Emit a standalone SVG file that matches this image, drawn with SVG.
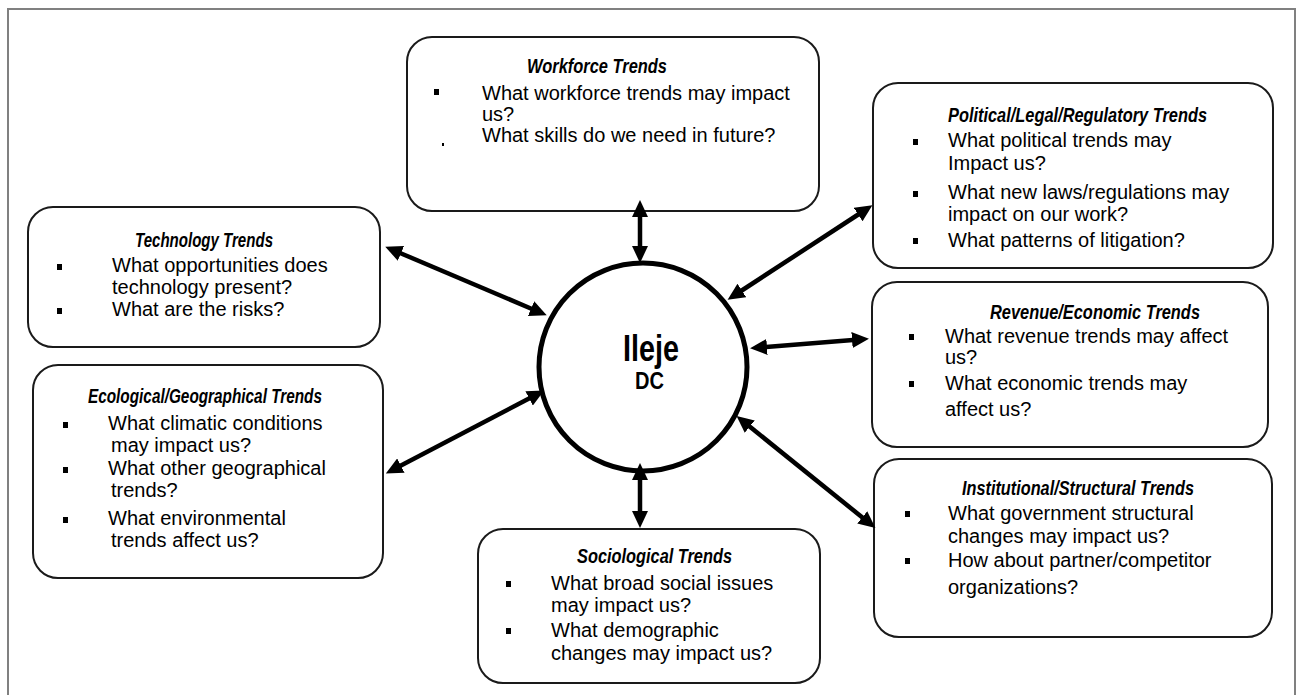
<svg xmlns="http://www.w3.org/2000/svg" width="1301" height="695" viewBox="0 0 1301 695">
<style>
.frame{stroke:#808080;stroke-width:2;fill:none}
.box{fill:#fff;stroke:#1a1a1a;stroke-width:2}
.ttl{font-family:"Liberation Sans",Arial,sans-serif;font-weight:bold;font-style:italic;font-size:20px;fill:#000}
.txt{font-family:"Liberation Sans",Arial,sans-serif;font-size:20px;fill:#000}
.blt{fill:#000}
.arr{stroke:#000;stroke-width:4.5;fill:none;marker-start:url(#ah);marker-end:url(#ah)}
.ctr{fill:#fff;stroke:#000;stroke-width:5}
.big{font-family:"Liberation Sans",Arial,sans-serif;font-weight:bold;fill:#000}
</style>
<defs>
<marker id="ah" viewBox="0 -8 17 16" refX="1" refY="0" markerWidth="17" markerHeight="16" markerUnits="userSpaceOnUse" orient="auto-start-reverse">
<path d="M0,-8 L17,0 L0,8 z" fill="#000"/>
</marker>
</defs>
<rect width="1301" height="695" fill="#fff"/>
<path class="frame" d="M8,695 V9 H1295 V695"/>

<g id="workforce">
<rect class="box" x="407" y="37" width="412" height="174" rx="25"/>
<text class="ttl" x="527" y="73" textLength="140" lengthAdjust="spacingAndGlyphs">Workforce Trends</text>
<rect class="blt" x="434" y="89" width="5" height="6"/>
<text class="txt" x="482" y="100">What workforce trends may impact</text>
<text class="txt" x="482" y="121">us?</text>
<rect class="blt" x="442" y="143" width="2" height="3"/>
<text class="txt" x="482" y="142">What skills do we need in future?</text>
</g>

<g id="political">
<rect class="box" x="873" y="83" width="400" height="185" rx="25"/>
<text class="ttl" x="948" y="122" textLength="259" lengthAdjust="spacingAndGlyphs">Political/Legal/Regulatory Trends</text>
<rect class="blt" x="913" y="139" width="5" height="6"/>
<text class="txt" x="948" y="147">What political trends may</text>
<text class="txt" x="948" y="170">Impact us?</text>
<rect class="blt" x="913" y="191" width="5" height="6"/>
<text class="txt" x="948" y="199">What new laws/regulations may</text>
<text class="txt" x="948" y="221">impact on our work?</text>
<rect class="blt" x="913" y="238" width="5" height="6"/>
<text class="txt" x="948" y="247">What patterns of litigation?</text>
</g>

<g id="technology">
<rect class="box" x="28" y="207" width="352" height="140" rx="25"/>
<text class="ttl" x="135" y="247" textLength="138" lengthAdjust="spacingAndGlyphs">Technology Trends</text>
<rect class="blt" x="57" y="264" width="5" height="6"/>
<text class="txt" x="112" y="272">What opportunities does</text>
<text class="txt" x="112" y="294">technology present?</text>
<rect class="blt" x="57" y="308" width="5" height="6"/>
<text class="txt" x="112" y="316">What are the risks?</text>
</g>

<g id="ecological">
<rect class="box" x="33" y="365" width="350" height="213" rx="25"/>
<text class="ttl" x="88" y="403" textLength="234" lengthAdjust="spacingAndGlyphs">Ecological/Geographical Trends</text>
<rect class="blt" x="63" y="422" width="5" height="6"/>
<text class="txt" x="108" y="430">What climatic conditions</text>
<text class="txt" x="111" y="452">may impact us?</text>
<rect class="blt" x="63" y="467" width="5" height="6"/>
<text class="txt" x="108" y="475">What other geographical</text>
<text class="txt" x="111" y="497">trends?</text>
<rect class="blt" x="63" y="517" width="5" height="6"/>
<text class="txt" x="108" y="525">What environmental</text>
<text class="txt" x="111" y="547">trends affect us?</text>
</g>

<g id="revenue">
<rect class="box" x="872" y="282" width="396" height="165" rx="25"/>
<text class="ttl" x="990" y="319" textLength="210" lengthAdjust="spacingAndGlyphs">Revenue/Economic Trends</text>
<rect class="blt" x="909" y="334" width="5" height="6"/>
<text class="txt" x="945" y="343">What revenue trends may affect</text>
<text class="txt" x="945" y="364">us?</text>
<rect class="blt" x="909" y="381" width="5" height="6"/>
<text class="txt" x="945" y="390">What economic trends may</text>
<text class="txt" x="945" y="416">affect us?</text>
</g>

<g id="institutional">
<rect class="box" x="874" y="459" width="398" height="178" rx="25"/>
<text class="ttl" x="962" y="495" textLength="232" lengthAdjust="spacingAndGlyphs">Institutional/Structural Trends</text>
<rect class="blt" x="905" y="511" width="5" height="6"/>
<text class="txt" x="948" y="520">What government structural</text>
<text class="txt" x="948" y="543">changes may impact us?</text>
<rect class="blt" x="905" y="558" width="5" height="6"/>
<text class="txt" x="948" y="567">How about partner/competitor</text>
<text class="txt" x="948" y="594">organizations?</text>
</g>

<g id="sociological">
<rect class="box" x="478" y="529" width="342" height="154" rx="25"/>
<text class="ttl" x="577" y="563" textLength="155" lengthAdjust="spacingAndGlyphs">Sociological Trends</text>
<rect class="blt" x="506" y="581" width="5" height="6"/>
<text class="txt" x="551" y="590">What broad social issues</text>
<text class="txt" x="551" y="612">may impact us?</text>
<rect class="blt" x="506" y="628" width="5" height="6"/>
<text class="txt" x="551" y="637">What demographic</text>
<text class="txt" x="551" y="660">changes may impact us?</text>
</g>

<g id="center">
<circle class="ctr" cx="643" cy="367" r="104"/>
<text class="big" x="623" y="361" font-size="36" textLength="56" lengthAdjust="spacingAndGlyphs">Ileje</text>
<text class="big" x="635" y="389" font-size="24.5" textLength="29" lengthAdjust="spacingAndGlyphs">DC</text>
</g>

<g id="connectors">
<line class="arr" x1="640" y1="216" x2="640" y2="247"/>
<line class="arr" x1="640" y1="479" x2="640" y2="512"/>
<line class="arr" x1="400" y1="253" x2="532" y2="309"/>
<line class="arr" x1="400" y1="466" x2="530" y2="398"/>
<line class="arr" x1="741" y1="291" x2="859" y2="214"/>
<line class="arr" x1="766" y1="347" x2="853" y2="340"/>
<line class="arr" x1="749" y1="426" x2="863" y2="518"/>
</g>
</svg>
